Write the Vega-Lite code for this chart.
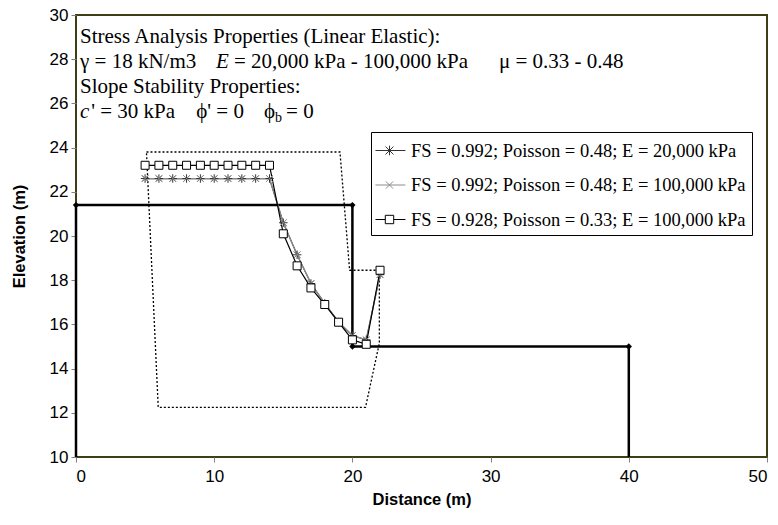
{
  "$schema": "https://vega.github.io/schema/vega-lite/v6.json",
  "width": 691,
  "height": 442,
  "autosize": {"type": "none"},
  "padding": {"left": 76, "top": 15, "right": 11, "bottom": 68},
  "background": "white",
  "config": {
    "view": {"stroke": "#3d3d16", "strokeWidth": 2},
    "axis": {
      "domain": false, "grid": false, "tickColor": "#808080", "tickSize": 5, "tickWidth": 1,
      "labelFont": "Liberation Sans", "labelFontSize": 17, "labelColor": "black",
      "titleFont": "Liberation Sans", "titleFontSize": 16.5, "titleFontWeight": "bold", "titleColor": "black"
    }
  },
  "datasets": {
    "ground": [
      {"x": 0, "y": 10, "o": 1}, {"x": 0, "y": 21.4, "o": 2}, {"x": 20, "y": 21.4, "o": 3},
      {"x": 20, "y": 15, "o": 4}, {"x": 40, "y": 15, "o": 5}, {"x": 40, "y": 10, "o": 6}
    ],
    "vertices": [
      {"x": 0, "y": 21.4}, {"x": 20, "y": 21.4}, {"x": 20, "y": 15}, {"x": 40, "y": 15}
    ],
    "gridbox": [
      {"x": 5.1, "y": 23.8, "o": 1}, {"x": 19.1, "y": 23.8, "o": 2}, {"x": 19.8, "y": 18.45, "o": 3},
      {"x": 21.95, "y": 18.45, "o": 4}, {"x": 21.95, "y": 15.15, "o": 5}, {"x": 20.95, "y": 12.25, "o": 6},
      {"x": 5.95, "y": 12.25, "o": 7}, {"x": 5.1, "y": 23.8, "o": 8}
    ],
    "slip": [
      {"s": "FS = 0.992; Poisson = 0.48; E = 20,000 kPa", "x": 5, "y": 22.6},
      {"s": "FS = 0.992; Poisson = 0.48; E = 20,000 kPa", "x": 6, "y": 22.6},
      {"s": "FS = 0.992; Poisson = 0.48; E = 20,000 kPa", "x": 7, "y": 22.6},
      {"s": "FS = 0.992; Poisson = 0.48; E = 20,000 kPa", "x": 8, "y": 22.6},
      {"s": "FS = 0.992; Poisson = 0.48; E = 20,000 kPa", "x": 9, "y": 22.6},
      {"s": "FS = 0.992; Poisson = 0.48; E = 20,000 kPa", "x": 10, "y": 22.6},
      {"s": "FS = 0.992; Poisson = 0.48; E = 20,000 kPa", "x": 11, "y": 22.6},
      {"s": "FS = 0.992; Poisson = 0.48; E = 20,000 kPa", "x": 12, "y": 22.6},
      {"s": "FS = 0.992; Poisson = 0.48; E = 20,000 kPa", "x": 13, "y": 22.6},
      {"s": "FS = 0.992; Poisson = 0.48; E = 20,000 kPa", "x": 14, "y": 22.6},
      {"s": "FS = 0.992; Poisson = 0.48; E = 20,000 kPa", "x": 15, "y": 20.6},
      {"s": "FS = 0.992; Poisson = 0.48; E = 20,000 kPa", "x": 16, "y": 19.15},
      {"s": "FS = 0.992; Poisson = 0.48; E = 20,000 kPa", "x": 17, "y": 17.85},
      {"s": "FS = 0.992; Poisson = 0.48; E = 20,000 kPa", "x": 18, "y": 16.95},
      {"s": "FS = 0.992; Poisson = 0.48; E = 20,000 kPa", "x": 19, "y": 16.1},
      {"s": "FS = 0.992; Poisson = 0.48; E = 20,000 kPa", "x": 20, "y": 15.5},
      {"s": "FS = 0.992; Poisson = 0.48; E = 20,000 kPa", "x": 21, "y": 15.3},
      {"s": "FS = 0.992; Poisson = 0.48; E = 20,000 kPa", "x": 22, "y": 18.25},
      {"s": "FS = 0.992; Poisson = 0.48; E = 100,000 kPa", "x": 5, "y": 22.6},
      {"s": "FS = 0.992; Poisson = 0.48; E = 100,000 kPa", "x": 6, "y": 22.6},
      {"s": "FS = 0.992; Poisson = 0.48; E = 100,000 kPa", "x": 7, "y": 22.6},
      {"s": "FS = 0.992; Poisson = 0.48; E = 100,000 kPa", "x": 8, "y": 22.6},
      {"s": "FS = 0.992; Poisson = 0.48; E = 100,000 kPa", "x": 9, "y": 22.6},
      {"s": "FS = 0.992; Poisson = 0.48; E = 100,000 kPa", "x": 10, "y": 22.6},
      {"s": "FS = 0.992; Poisson = 0.48; E = 100,000 kPa", "x": 11, "y": 22.6},
      {"s": "FS = 0.992; Poisson = 0.48; E = 100,000 kPa", "x": 12, "y": 22.6},
      {"s": "FS = 0.992; Poisson = 0.48; E = 100,000 kPa", "x": 13, "y": 22.6},
      {"s": "FS = 0.992; Poisson = 0.48; E = 100,000 kPa", "x": 14, "y": 22.6},
      {"s": "FS = 0.992; Poisson = 0.48; E = 100,000 kPa", "x": 15, "y": 20.6},
      {"s": "FS = 0.992; Poisson = 0.48; E = 100,000 kPa", "x": 16, "y": 19.15},
      {"s": "FS = 0.992; Poisson = 0.48; E = 100,000 kPa", "x": 17, "y": 17.85},
      {"s": "FS = 0.992; Poisson = 0.48; E = 100,000 kPa", "x": 18, "y": 16.95},
      {"s": "FS = 0.992; Poisson = 0.48; E = 100,000 kPa", "x": 19, "y": 16.1},
      {"s": "FS = 0.992; Poisson = 0.48; E = 100,000 kPa", "x": 20, "y": 15.5},
      {"s": "FS = 0.992; Poisson = 0.48; E = 100,000 kPa", "x": 21, "y": 15.3},
      {"s": "FS = 0.992; Poisson = 0.48; E = 100,000 kPa", "x": 22, "y": 18.25},
      {"s": "FS = 0.928; Poisson = 0.33; E = 100,000 kPa", "x": 5, "y": 23.2},
      {"s": "FS = 0.928; Poisson = 0.33; E = 100,000 kPa", "x": 6, "y": 23.2},
      {"s": "FS = 0.928; Poisson = 0.33; E = 100,000 kPa", "x": 7, "y": 23.2},
      {"s": "FS = 0.928; Poisson = 0.33; E = 100,000 kPa", "x": 8, "y": 23.2},
      {"s": "FS = 0.928; Poisson = 0.33; E = 100,000 kPa", "x": 9, "y": 23.2},
      {"s": "FS = 0.928; Poisson = 0.33; E = 100,000 kPa", "x": 10, "y": 23.2},
      {"s": "FS = 0.928; Poisson = 0.33; E = 100,000 kPa", "x": 11, "y": 23.2},
      {"s": "FS = 0.928; Poisson = 0.33; E = 100,000 kPa", "x": 12, "y": 23.2},
      {"s": "FS = 0.928; Poisson = 0.33; E = 100,000 kPa", "x": 13, "y": 23.2},
      {"s": "FS = 0.928; Poisson = 0.33; E = 100,000 kPa", "x": 14, "y": 23.2},
      {"s": "FS = 0.928; Poisson = 0.33; E = 100,000 kPa", "x": 15, "y": 20.1},
      {"s": "FS = 0.928; Poisson = 0.33; E = 100,000 kPa", "x": 16, "y": 18.65},
      {"s": "FS = 0.928; Poisson = 0.33; E = 100,000 kPa", "x": 17, "y": 17.65},
      {"s": "FS = 0.928; Poisson = 0.33; E = 100,000 kPa", "x": 18, "y": 16.9},
      {"s": "FS = 0.928; Poisson = 0.33; E = 100,000 kPa", "x": 19, "y": 16.1},
      {"s": "FS = 0.928; Poisson = 0.33; E = 100,000 kPa", "x": 20, "y": 15.3},
      {"s": "FS = 0.928; Poisson = 0.33; E = 100,000 kPa", "x": 21, "y": 15.1},
      {"s": "FS = 0.928; Poisson = 0.33; E = 100,000 kPa", "x": 22, "y": 18.45}
    ],
    "notes": [
      {"x": 0.29, "y": 28.72, "t": "Stress Analysis Properties (Linear Elastic):"},
      {"x": 0.29, "y": 27.6, "t": "γ = 18 kN/m3"},
      {"x": 11.43, "y": 27.6, "t": "= 20,000 kPa - 100,000 kPa"},
      {"x": 30.6, "y": 27.6, "t": "μ = 0.33 - 0.48"},
      {"x": 0.29, "y": 26.45, "t": "Slope Stability Properties:"},
      {"x": 1.1, "y": 25.35, "t": "' = 30 kPa"},
      {"x": 8.7, "y": 25.35, "t": "ϕ' = 0"},
      {"x": 13.6, "y": 25.35, "t": "ϕ"},
      {"x": 15.2, "y": 25.35, "t": "= 0"}
    ],
    "notesItalic": [
      {"x": 10.13, "y": 27.6, "t": "E"},
      {"x": 0.29, "y": 25.35, "t": "c"}
    ],
    "notesSub": [
      {"x": 14.4, "y": 25.17, "t": "b"}
    ]
  },
  "layer": [
    {
      "data": {"name": "gridbox"},
      "mark": {"type": "line", "color": "black", "strokeWidth": 1.3, "strokeDash": [2, 2]},
      "encoding": {
        "x": {"field": "x", "type": "quantitative", "scale": {"domain": [0, 50], "nice": false},
              "axis": {"values": [0, 10, 20, 30, 40, 50], "title": "Distance (m)", "labelPadding": 6, "titlePadding": 7}},
        "y": {"field": "y", "type": "quantitative", "scale": {"domain": [10, 30], "nice": false},
              "axis": {"values": [10, 12, 14, 16, 18, 20, 22, 24, 26, 28, 30], "title": "Elevation (m)", "labelPadding": 3, "titlePadding": 22}},
        "order": {"field": "o"}
      }
    },
    {
      "data": {"name": "ground"},
      "mark": {"type": "line", "color": "black", "strokeWidth": 2.5},
      "encoding": {
        "x": {"field": "x", "type": "quantitative"},
        "y": {"field": "y", "type": "quantitative"},
        "order": {"field": "o"}
      }
    },
    {
      "data": {"name": "vertices"},
      "mark": {"type": "point", "shape": "diamond", "filled": true, "color": "black", "size": 40, "opacity": 1},
      "encoding": {
        "x": {"field": "x", "type": "quantitative"},
        "y": {"field": "y", "type": "quantitative"}
      }
    },
    {
      "data": {"name": "slip"},
      "mark": {"type": "line", "strokeWidth": 1.2},
      "encoding": {
        "x": {"field": "x", "type": "quantitative"},
        "y": {"field": "y", "type": "quantitative"},
        "detail": {"field": "s"},
        "stroke": {"field": "s", "type": "nominal",
          "scale": {"domain": ["FS = 0.992; Poisson = 0.48; E = 20,000 kPa", "FS = 0.992; Poisson = 0.48; E = 100,000 kPa", "FS = 0.928; Poisson = 0.33; E = 100,000 kPa"],
                    "range": ["#333333", "#8c8c8c", "#000000"]}}
      }
    },
    {
      "data": {"name": "slip"},
      "transform": [{"filter": "datum.s === 'FS = 0.992; Poisson = 0.48; E = 20,000 kPa'"}],
      "mark": {"type": "point", "filled": false, "stroke": "#333333", "strokeWidth": 1, "size": 72, "opacity": 1,
               "shape": "M-1,0L1,0M-0.7,-0.7L0.7,0.7M-0.7,0.7L0.7,-0.7M0,-1L0,1"},
      "encoding": {
        "x": {"field": "x", "type": "quantitative"},
        "y": {"field": "y", "type": "quantitative"}
      }
    },
    {
      "data": {"name": "slip"},
      "transform": [{"filter": "datum.s === 'FS = 0.992; Poisson = 0.48; E = 100,000 kPa'"}],
      "mark": {"type": "point", "filled": false, "stroke": "#8c8c8c", "strokeWidth": 1, "size": 72, "opacity": 1,
               "shape": "M-0.8,-0.8L0.8,0.8M-0.8,0.8L0.8,-0.8"},
      "encoding": {
        "x": {"field": "x", "type": "quantitative"},
        "y": {"field": "y", "type": "quantitative"}
      }
    },
    {
      "data": {"name": "slip"},
      "transform": [{"filter": "datum.s === 'FS = 0.928; Poisson = 0.33; E = 100,000 kPa'"}],
      "mark": {"type": "point", "filled": true, "fill": "white", "stroke": "black", "strokeWidth": 1, "size": 64, "opacity": 1, "shape": "square"},
      "encoding": {
        "x": {"field": "x", "type": "quantitative"},
        "y": {"field": "y", "type": "quantitative"}
      }
    },
    {
      "data": {"name": "slip"},
      "transform": [{"filter": "false"}],
      "mark": {"type": "point", "filled": false, "strokeWidth": 1, "opacity": 1},
      "encoding": {
        "x": {"field": "x", "type": "quantitative"},
        "y": {"field": "y", "type": "quantitative"},
        "stroke": {"field": "s", "type": "nominal",
          "scale": {"domain": ["FS = 0.992; Poisson = 0.48; E = 20,000 kPa", "FS = 0.992; Poisson = 0.48; E = 100,000 kPa", "FS = 0.928; Poisson = 0.33; E = 100,000 kPa"],
                    "range": ["#333333", "#8c8c8c", "#000000"]},
          "legend": {
            "title": null, "orient": "none", "legendX": 295, "legendY": 117,
            "padding": 6, "strokeColor": "black", "fillColor": "white",
            "labelFont": "Liberation Serif", "labelFontSize": 18.5, "labelColor": "black", "labelLimit": 600,
            "rowPadding": 12.5, "labelOffset": 9, "symbolSize": 576, "symbolStrokeWidth": 1
          }},
        "shape": {"field": "s", "type": "nominal",
          "scale": {"domain": ["FS = 0.992; Poisson = 0.48; E = 20,000 kPa", "FS = 0.992; Poisson = 0.48; E = 100,000 kPa", "FS = 0.928; Poisson = 0.33; E = 100,000 kPa"],
                    "range": ["M-1.17,0L1.33,0M-0.33,-0.33L0.33,0.33M-0.33,0.33L0.33,-0.33M0,-0.4L0,0.4", "M-1.17,0L1.33,0M-0.3,-0.3L0.3,0.3M-0.3,0.3L0.3,-0.3", "M-1.17,0L-0.35,0M0.35,0L1.33,0M-0.35,-0.35L0.35,-0.35L0.35,0.35L-0.35,0.35Z"]}}
      }
    },
    {
      "data": {"name": "notes"},
      "mark": {"type": "text", "font": "Liberation Serif", "fontSize": 21, "align": "left", "baseline": "alphabetic", "color": "black"},
      "encoding": {
        "x": {"field": "x", "type": "quantitative"},
        "y": {"field": "y", "type": "quantitative"},
        "text": {"field": "t"}
      }
    },
    {
      "data": {"name": "notesItalic"},
      "mark": {"type": "text", "font": "Liberation Serif", "fontSize": 21, "fontStyle": "italic", "align": "left", "baseline": "alphabetic", "color": "black"},
      "encoding": {
        "x": {"field": "x", "type": "quantitative"},
        "y": {"field": "y", "type": "quantitative"},
        "text": {"field": "t"}
      }
    },
    {
      "data": {"name": "notesSub"},
      "mark": {"type": "text", "font": "Liberation Serif", "fontSize": 14, "align": "left", "baseline": "alphabetic", "color": "black"},
      "encoding": {
        "x": {"field": "x", "type": "quantitative"},
        "y": {"field": "y", "type": "quantitative"},
        "text": {"field": "t"}
      }
    }
  ]
}
